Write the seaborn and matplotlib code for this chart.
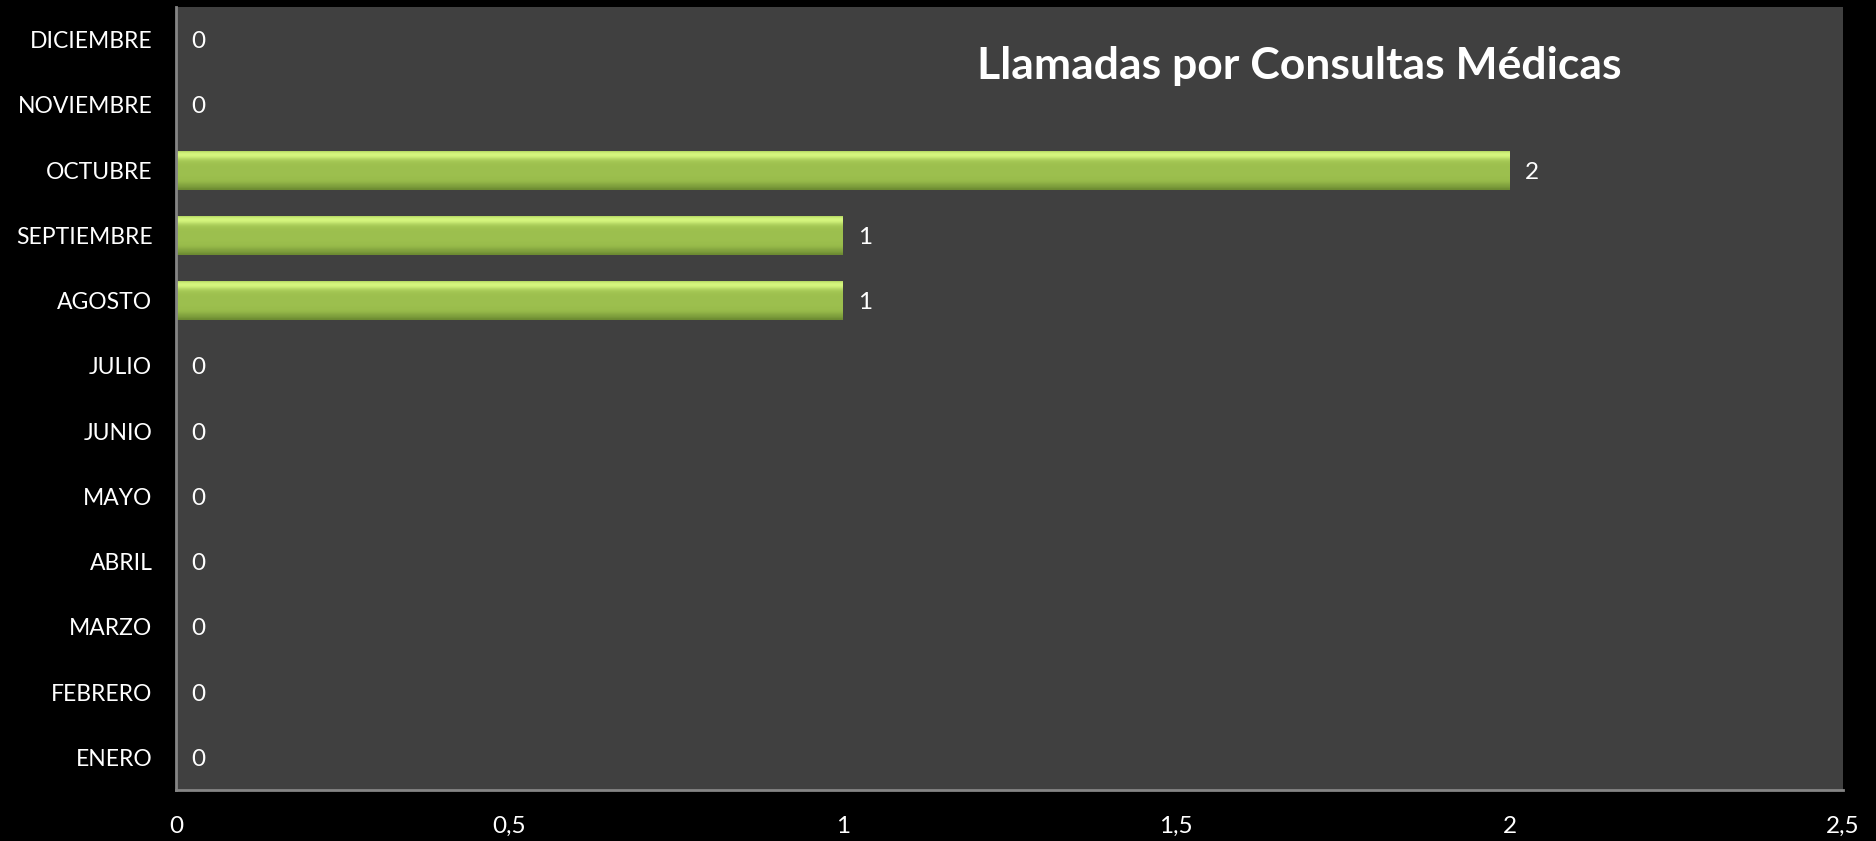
import matplotlib.pyplot as plt
import numpy as np
import pandas as pd
import seaborn as sns

meses = ["ENERO", "FEBRERO", "MARZO", "ABRIL", "MAYO", "JUNIO",
         "JULIO", "AGOSTO", "SEPTIEMBRE", "OCTUBRE", "NOVIEMBRE", "DICIEMBRE"]
llamadas = [0, 0, 0, 0, 0, 0, 0, 1, 1, 2, 0, 0]
x_ticks = [0, 0.5, 1, 1.5, 2, 2.5]
x_labels = ["0", "0,5", "1", "1,5", "2", "2,5"]

df = pd.DataFrame({"Mes": meses, "Llamadas": llamadas})

sns.set_theme(style="dark")
plt.rcParams["font.family"] = ["Lato", "DejaVu Sans"]

fig = plt.figure(figsize=(18.76, 8.41), dpi=100, facecolor="black")
ax = fig.add_axes([0.0938, 0.0607, 0.8886, 0.931])
ax.set_facecolor("#404040")

# top of chart is DICIEMBRE
orden = meses[::-1]
sns.barplot(data=df, x="Llamadas", y="Mes", order=orden, orient="h",
            color="#9dbf50", width=0.6, saturation=1, ax=ax, linewidth=0)

# shiny gradient on each bar (top -> bottom)
grad = np.array([0.7, 0.95, 1.0, 0.9, 0.72, 0.6, 0.55, 0.53, 0.52, 0.52,
                 0.52, 0.52, 0.52, 0.51, 0.5, 0.48, 0.42, 0.35, 0.3, 0.2]).reshape(-1, 1)
cmap = plt.matplotlib.colors.LinearSegmentedColormap.from_list(
    "verde", ["#4f6b22", "#9abd4c", "#d6f77f"])
for p in ax.patches:
    w = p.get_width()
    if w <= 0:
        continue
    x0, y0, h = p.get_x(), p.get_y(), p.get_height()
    im = ax.imshow(grad, cmap=cmap, vmin=0, vmax=1, aspect="auto",
                   extent=[x0, x0 + w, y0 + h, y0], zorder=p.get_zorder() + 0.1,
                   interpolation="bilinear")
    im.set_clip_path(p)

for c in ax.containers:
    labs = ax.bar_label(c, labels=[str(int(v)) for v in c.datavalues], padding=11,
                        color="white", fontsize=17.5)
    for t in labs:
        t.set_verticalalignment("center_baseline")

ax.set_xlim(0, 2.5)
ax.set_ylim(len(orden) - 0.5, -0.5)
ax.set_xticks(x_ticks)
ax.set_xticklabels(x_labels)
ax.tick_params(axis="both", colors="white", labelsize=16.5, length=0)
ax.tick_params(axis="x", labelsize=17.5, pad=19)
ax.tick_params(axis="y", pad=17)
ax.set_xlabel("")
ax.set_ylabel("")
ax.grid(False)
for s in ["top", "right"]:
    ax.spines[s].set_visible(False)
for s in ["left", "bottom"]:
    ax.spines[s].set_color("#858585")
    ax.spines[s].set_linewidth(2)

ax.text(0.674, 0.925, "Llamadas por Consultas Médicas", transform=ax.transAxes,
        ha="center", va="center", color="white", fontsize=32, fontweight="bold")

fig.savefig("out.png", dpi=100, facecolor="black")
